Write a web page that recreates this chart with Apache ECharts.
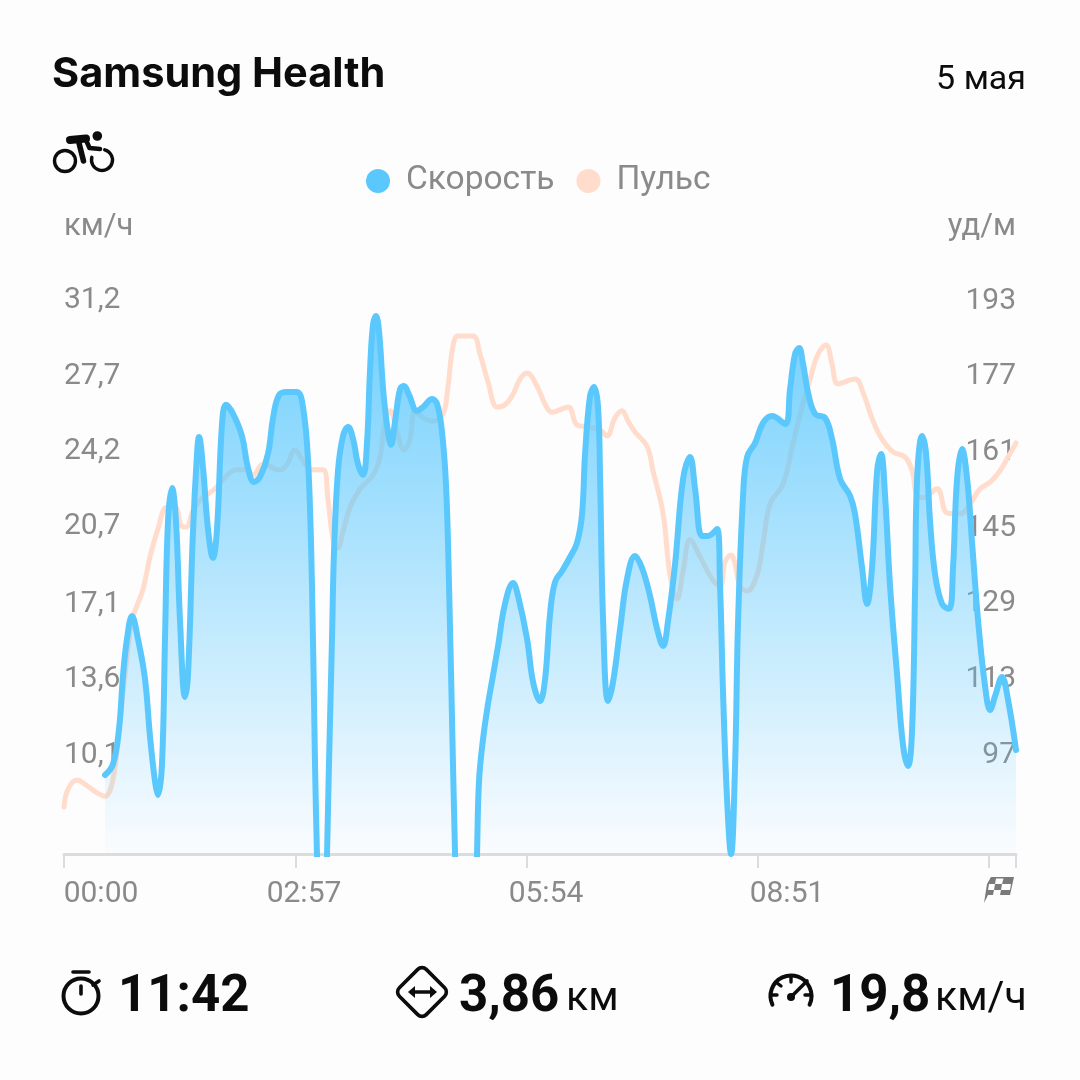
<!DOCTYPE html>
<html>
<head>
<meta charset="utf-8">
<style>html,body{margin:0;padding:0;background:#fdfdfe}#c{width:1080px;height:1080px}</style>
<script src="https://cdn.jsdelivr.net/npm/echarts@6/dist/echarts.min.js"></script>
</head>
<body>
<div id="c"></div>
<script>
// seconds, km/h
const speedTimes = [31.4,37.5,42.1,45.2,48.2,52,56.6,62,65.8,69.7,71.9,75,77.3,79.6,82.7,85.7,88.8,92.6,94.9,98.7,101.8,103.3,106.4,110.2,114,117.1,120.9,124,129.4,136.2,140.8,145.4,150,156.1,160,164.6,170.7,178.3,182.9,186.8,189.8,192.1,193.6,195.9,199,201.3,202.8,205.1,206.7,209.7,213.5,217.4,221.2,225,228.9,231.9,234.2,236.5,238.8,241.1,244.2,247.2,250.3,253.4,257.2,260.2,264.1,270.2,274.8,281.7,285.5,289.3,292.4,294.7,297.7,299.3,301.6,313.8,316.1,317.6,320.7,324.5,328.4,332.2,337.5,343.7,347.5,354.4,359,364.3,368.2,372,375.8,381.2,387.3,392.6,396.5,398.8,402.6,405.7,408.7,410.3,412.6,416.4,420.2,425.6,430.9,437,442.4,448.5,453.9,458.5,462.3,467.7,473.8,479.1,483,488.3,492.9,499.8,502.1,504.4,507.5,510.5,513.6,515.9,519.7,522.8,528.9,535,541.9,551.9,555.7,559.5,562.6,565.6,569.5,574.8,582.5,587.8,594,601.6,605.4,610.8,614.6,618.4,622.3,625.3,628.4,632.2,637.6,642.2,646,649.1,651.4,652.9,656.7,659.8,662.8,666.7,672,677.4,680.4,683.5,687.3,691.2,695,699.6,704.9,708.8,712.6,717.9,722.5,728.6];
const speedValues = [9.17,9.68,11.31,13.82,15.49,16.56,15.49,13.63,10.98,8.85,8.24,9.68,15.49,20.97,22.51,20.97,16.33,12.8,13.82,20.46,24.09,24.88,23.44,20.6,19.26,20.6,25.44,26.37,25.95,24.92,23.44,22.79,23.02,24.09,25.76,26.83,26.97,26.97,26.27,23.76,17.95,9.68,5.5,0,0,5.5,9.68,15.49,19.63,23.3,24.92,25.34,24.79,23.62,23.11,24.6,27.95,30.1,30.5,29.8,27.11,25.44,24.51,25.62,27.11,27.25,26.83,26.09,26.27,26.64,26.41,25.11,22.6,17.95,9.68,5.5,0,0,5.5,8.85,10.84,12.47,13.82,15.17,17.12,18.09,17.49,15.49,13.49,12.61,13.63,16.65,18.14,18.65,19.3,19.95,21.3,24.09,26.78,27.2,26.27,22.93,16.33,12.61,13.49,15.96,18.28,19.35,18.79,17.49,15.96,15.17,16.33,18.98,22.93,23.95,22.46,20.28,20.28,20.6,17.95,12.98,8.01,5.5,9.68,16.33,22.14,23.95,24.6,25.53,25.85,25.48,27.11,28.74,29.01,28.27,26.92,25.95,25.76,24.79,22.93,22.14,21.3,18.79,17.12,18.79,23.3,24.09,22.14,17.95,13.82,10.52,9.59,11.31,17.95,22.93,24.92,24.09,20.97,18.47,17.12,16.89,18.79,22.93,24.32,22.93,19.95,16.33,13.31,12.19,12.84,13.73,12.66,10.33];
// seconds, beats per minute
const pulseTimes = [0,3.1,10,17.6,25.3,31.4,37.5,42.1,46.7,52,60.5,65.8,71.9,78.8,85,89.6,93.4,98.7,104.1,115.6,124.8,132.4,138.5,144.7,152.3,165.3,170.7,176.8,182.9,189.8,198.2,202.1,205.9,209.7,213.5,218.9,226.6,236.5,241.9,245.7,249.5,254.9,260.2,264.8,268.7,274.8,282.4,290.1,293.9,297.7,301.6,313,318.4,324.5,331.4,336,342.9,349,354.4,362,368.2,373.5,385.8,392.6,400.3,410.3,415.6,421.7,427.1,431.7,437,446.2,450.8,458.5,463.8,469.2,473.8,479.1,486.8,496,502.1,505.9,510.5,513.6,517.4,522.8,530.4,535,540.4,550.3,558,564.9,571,577.1,583.2,587.8,592.4,605.4,611.6,619.2,626.1,634.5,643.7,649.1,652.9,657.5,668.2,675.9,685.8,693.5,701.1,708.8,716.4,722.5,728.6];
const pulseValues = [86,89.8,91.7,90.5,89,88.3,91.9,102.5,113.9,125.3,132.1,138.9,144.8,149.4,149.4,145.6,145.2,148.6,150.9,153.3,156.2,157.3,157.3,156.2,158.5,157.3,158.5,161.5,159.2,157.3,157.3,150.9,142.7,140.8,144.2,149.4,153.3,156.2,160,167.6,169.8,165.3,161.5,163.8,169.8,168.3,167.6,169.1,175,183.5,185.6,185.6,181.8,175.9,170.6,170.8,172.9,176.5,177.8,175,171.2,169.5,170.6,166.8,166.4,165.7,164.5,168.3,169.8,167.6,165.3,162.3,157.1,148,135.1,130,135.9,142.5,138.9,134.2,132.7,137.8,139.3,137.4,132.7,131.7,135.1,141.8,150.1,154.3,163,170.6,176.5,181.8,183.7,179.7,175.5,176.5,173.6,167.6,163.8,161.1,160,157.1,151.8,151.4,153.3,148.2,148,150.1,153.3,154.7,157.1,160,163];
const speedTicks = [31.2,27.7,24.2,20.7,17.1,13.6,10.1];
const pulseTicks = [193,177,161,145,129,113,97];
const timeTicks = [0,177,354,531,708,728.6];
const timeLabels = ['00:00','02:57','05:54','08:51'];
const legendNames = ['Скорость','Пульс'];

const BLUE='#5ac8fd', PEACH='#ffdccb', GREY='#8a8a8a', INK='#0c0c0c';
const pair=(a,b)=>a.map((t,i)=>[t,b[i]]);
const txt=(text,pos,size,weight,color,family)=>Object.assign({text,textStyle:{fontFamily:family||'Roboto',fontSize:size,fontWeight:weight,color,lineHeight:size}},pos,{padding:0});
const stroke=(w,c)=>({stroke:c||INK,lineWidth:w,fill:'none',lineCap:'round',lineJoin:'round'});
const line=(x1,y1,x2,y2,w,c)=>({type:'line',silent:true,shape:{x1,y1,x2,y2},style:stroke(w,c)});
const circle=(cx,cy,r,w)=>({type:'circle',silent:true,shape:{cx,cy,r},style:stroke(w)});
const disc=(cx,cy,r)=>({type:'circle',silent:true,shape:{cx,cy,r},style:{fill:INK}});
const arc=(cx,cy,r,a,b,w)=>({type:'arc',silent:true,shape:{cx,cy,r,startAngle:a*Math.PI/180,endAngle:b*Math.PI/180,clockwise:true},style:stroke(w)});
const poly=(points,fill)=>({type:'polygon',silent:true,shape:{points},style:{fill}});
const pline=(points,w)=>({type:'polyline',silent:true,shape:{points},style:stroke(w)});

const icons=[
 // cyclist
 circle(65,161,10.5,3.4),
 arc(102,160,10.5,-75,195,3.4),
 disc(97.3,136,4.8),
 line(70,140,86,138.5,8),
 pline([[86,140],[89.5,148],[100,149]],4.6),
 line(79,143,83.5,161,5.5),
 // stopwatch
 line(73,972,89,972,3.6),
 circle(81,996,17.5,4),
 line(81,986,81,994,3.6),
 line(93,985,99,981,3.6),
 // distance
 {type:'rect',silent:true,x:422,y:992,rotation:Math.PI/4,shape:{x:-19,y:-19,width:38,height:38,r:6},style:stroke(3.6)},
 line(412,992,432,992,3.6),
 poly([[408,992],[415,986],[415,998]],INK),
 poly([[437,992],[430,986],[430,998]],INK),
 // speed gauge
 arc(791,996,20.5,155,385,4),
 line(791,976,791,982,3.4),
 line(771,995,777,995,3.4),
 line(805,995,811,995,3.4),
 line(777,983,781,986,3.4),
 disc(791,997,4),
 line(791,997,807,981,3.6),
 // finish flag
 poly([[991,877],[1014,877],[1010,895],[988,895],[984,903],[987,884]],'#7a7a7a'),
 poly([[996,878.5],[1003.5,878.5],[1002,884],[995,884]],'#fdfdfe'),
 poly([[989,884],[995,884],[994,890],[988,890]],'#fdfdfe'),
 poly([[1002,884],[1011,884],[1010,890],[1001,890]],'#fdfdfe'),
 poly([[994,890],[1001,890],[1000,895],[993,895]],'#fdfdfe')
];

const chart=echarts.init(document.getElementById('c'),null,{renderer:'canvas'});
chart.setOption({
 animation:false,
 backgroundColor:'#fdfdfe',
 title:[
  txt('Samsung Health',{left:52,top:54},41.5,700,INK,'Inter'),
  txt('5 мая',{right:54,top:63},34,400,INK),
  txt('км/ч',{left:64,top:212},31,400,GREY),
  txt('уд/м',{right:64,top:212},31,400,GREY),
  txt('11:42',{left:118,top:973},51,700,INK),
  txt('3,86',{left:459,top:973},51,700,INK),
  txt('км',{left:566,top:979},41,400,INK),
  txt('19,8',{left:830,top:973},51,700,INK),
  txt('км/ч',{left:935,top:979},41,400,INK)
 ],
 legend:{
  data:legendNames,
  left:361,top:159,icon:'circle',itemWidth:24,itemHeight:24,itemGap:22,
  textStyle:{fontFamily:'Roboto',fontSize:33.5,color:GREY,padding:[0,0,0,11]},
  selectedMode:false
 },
 grid:{left:64,right:64,top:260,bottom:226,containLabel:false,outerBoundsMode:'none'},
 xAxis:[
  {type:'value',min:0,max:728.6,position:'bottom',
   axisLine:{show:true,onZero:false,lineStyle:{color:'#dcdcdc',width:3}},
   axisTick:{show:true,length:14,lineStyle:{color:'#dcdcdc',width:2},customValues:timeTicks},
   axisLabel:{show:false},splitLine:{show:false}},
  {type:'value',min:0,max:952,position:'bottom',
   axisLine:{show:false,onZero:false},axisTick:{show:false},splitLine:{show:false},
   axisLabel:{show:true,margin:40,hideOverlap:false,showMinLabel:true,showMaxLabel:true,
    customValues:[37,240,482,723],
    formatter:(v)=>timeLabels[[37,240,482,723].indexOf(v)]||'',
    fontFamily:'Roboto',fontSize:30,color:GREY,align:'center',verticalAlign:'middle'}}
 ],
 yAxis:[
  {type:'value',min:5.5,max:33.1,position:'left',
   axisLine:{show:false},axisTick:{show:false},splitLine:{show:false},
   axisLabel:{inside:true,margin:0,customValues:speedTicks,formatter:(v)=>v.toFixed(1).replace('.',','),
    padding:[6,0,0,0],fontFamily:'Roboto',fontSize:30,color:GREY,align:'left',verticalAlign:'middle'}},
  {type:'value',min:76.07,max:201.68,position:'right',
   axisLine:{show:false},axisTick:{show:false},splitLine:{show:false},
   axisLabel:{inside:true,margin:0,customValues:pulseTicks,formatter:(v)=>String(v),
    padding:[6,0,0,0],fontFamily:'Roboto',fontSize:30,color:GREY,align:'right',verticalAlign:'middle'}}
 ],
 series:[
  {name:legendNames[1],type:'line',xAxisIndex:0,yAxisIndex:1,data:pair(pulseTimes,pulseValues),
   smooth:0.4,showSymbol:false,symbol:'none',z:2,
   itemStyle:{color:PEACH},lineStyle:{color:PEACH,width:5,cap:'round',join:'round'}},
  {name:legendNames[0],type:'line',xAxisIndex:0,yAxisIndex:0,data:pair(speedTimes,speedValues),
   smooth:0.4,showSymbol:false,symbol:'none',z:3,clip:true,
   itemStyle:{color:BLUE},lineStyle:{color:BLUE,width:6,cap:'round',join:'round'},
   areaStyle:{opacity:1,color:{type:'linear',global:true,x:0,y:312,x2:0,y2:854,colorStops:[
     {offset:0,color:'rgba(90,200,253,0.85)'},{offset:1,color:'rgba(90,200,253,0.02)'}]}}}
 ],
 graphic:{elements:icons}
});
</script>
</body>
</html>
